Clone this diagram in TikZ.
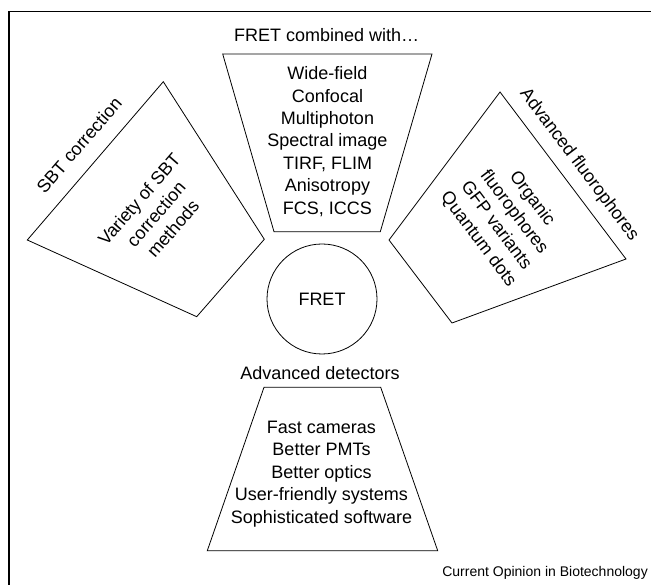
\documentclass[tikz,border=0pt]{standalone}
\usepackage{fontspec}
\setmainfont{Liberation Sans}
\begin{document}
\begin{tikzpicture}[x=1pt,y=-1pt,
  shapeline/.style={draw, line width=0.8pt, line join=miter},
  txt/.style={font=\fontsize{18}{22.4}\selectfont, align=center, inner sep=0pt},
  credit/.style={font=\fontsize{14}{16}\selectfont, inner sep=0pt}]
\useasboundingbox (0,0) rectangle (651,585);
\draw[line width=1.2pt] (651,11.7) -- (9,11.7) -- (9,585);
% left
\draw[shapeline] (163.3,81.7) -- (264.3,239.3) -- (196.7,316.7) -- (27.3,240) -- cycle;
\node[txt, rotate=49] (sbtlabel) at (79,145) {SBT correction};
\node[txt, rotate=49] (sbttext) at (156,214) {Variety of SBT\\correction\\methods};
% top
\draw[shapeline] (222.7,54) -- (432,54) -- (380.3,231.7) -- (274,231.7) -- cycle;
\node[txt] (toplabel) at (326.7,35) {FRET combined with…};
\node[txt] (toptext) at (327.5,141.5) {Wide-field\\Confocal\\Multiphoton\\Spectral image\\TIRF, FLIM\\Anisotropy\\FCS, ICCS};
% right
\draw[shapeline] (500,92) -- (626,259) -- (452,323) -- (389,240) -- cycle;
\node[txt, rotate=-53] (rightlabel) at (579,165) {Advanced fluorophores};
\node[txt, rotate=-53] (righttext) at (505,219) {Organic\\fluorophores\\GFP variants\\Quantum dots};
% bottom
\draw[shapeline] (264,387.3) -- (380.7,387.3) -- (437.7,550.7) -- (207.3,550.7) -- cycle;
\node[txt] (botlabel) at (320,373) {Advanced detectors};
\node[txt] (bottext) at (321.5,474) {Fast cameras\\Better PMTs\\Better optics\\User-friendly systems\\Sophisticated software};
% centre
\node[txt, draw, line width=0.8pt, circle, minimum size=110pt] (fret) at (322,299) {FRET};
\node[credit, anchor=east] (credit) at (648,573) {Current Opinion in Biotechnology};
\end{tikzpicture}
\end{document}
